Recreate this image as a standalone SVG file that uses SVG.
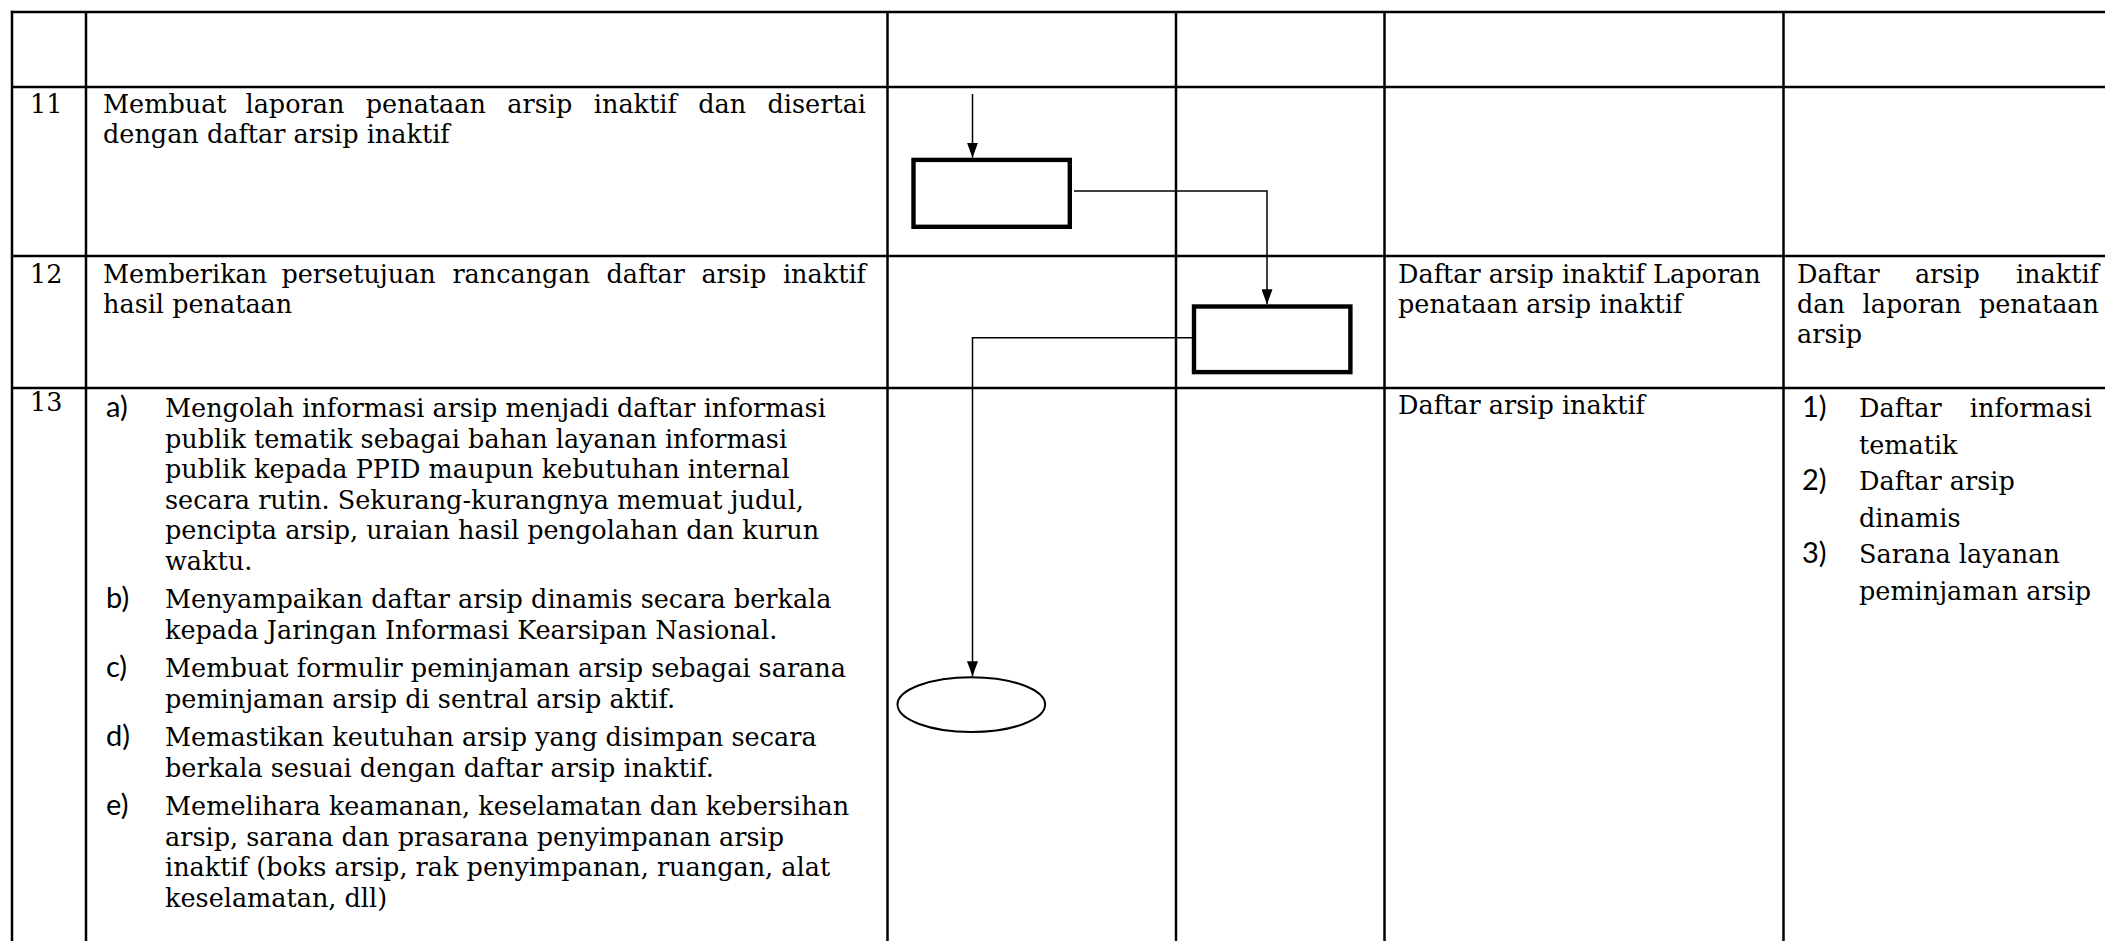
<svg xmlns="http://www.w3.org/2000/svg" width="2105" height="941" viewBox="0 0 2105 941">
<style>
.grid{stroke:#000;stroke-width:2.5;fill:none}
.t{font-family:"DejaVu Serif","Liberation Serif",serif;font-size:25.5px;fill:#000}
.lbl{font-family:Lato,"Liberation Sans",sans-serif;font-size:29px;fill:#000}
.proc{fill:#fff;stroke:#000;stroke-width:4.4}
.term{fill:#fff;stroke:#000;stroke-width:2}
.conn{fill:none;stroke:#000;stroke-width:1.5}
</style>
<defs>
<marker id="arr" viewBox="0 0 15 11" refX="15" refY="5.5" markerWidth="15" markerHeight="11" markerUnits="userSpaceOnUse" orient="auto">
<path d="M0,0 L15,5.5 L0,11 z" fill="#000"/>
</marker>
</defs>
<rect width="2105" height="941" fill="#fff"/>
<g id="table" class="grid">
<line x1="10.75" y1="12" x2="2105" y2="12"/>
<line x1="12" y1="87" x2="2105" y2="87"/>
<line x1="12" y1="256" x2="2105" y2="256"/>
<line x1="12" y1="388" x2="2105" y2="388"/>
<line x1="12" y1="10.75" x2="12" y2="941"/>
<line x1="86" y1="12" x2="86" y2="941"/>
<line x1="887.5" y1="12" x2="887.5" y2="941"/>
<line x1="1176" y1="12" x2="1176" y2="941"/>
<line x1="1384.5" y1="12" x2="1384.5" y2="941"/>
<line x1="1783.5" y1="12" x2="1783.5" y2="941"/>
</g>
<g id="row11" class="t">
<text x="30" y="113">11</text>
<text y="113"><tspan x="103">Membuat</tspan><tspan x="245.5">laporan</tspan><tspan x="365.8">penataan</tspan><tspan x="507.3">arsip</tspan><tspan x="593.8">inaktif</tspan><tspan x="698.2">dan</tspan></text>
<text x="866" y="113" text-anchor="end">disertai</text>
<text x="103" y="143">dengan daftar arsip inaktif</text>
</g>
<g id="row12" class="t">
<text x="30" y="283">12</text>
<text y="283"><tspan x="103">Memberikan</tspan><tspan x="281.4">persetujuan</tspan><tspan x="452.4">rancangan</tspan><tspan x="606.4">daftar</tspan><tspan x="701.4">arsip</tspan></text>
<text x="866" y="283" text-anchor="end">inaktif</text>
<text x="103" y="313">hasil penataan</text>
<text x="1398" y="283">Daftar arsip inaktif Laporan</text>
<text x="1398" y="313">penataan arsip inaktif</text>
<text y="283"><tspan x="1797">Daftar</tspan><tspan x="1914.9">arsip</tspan></text>
<text x="2099" y="283" text-anchor="end">inaktif</text>
<text y="313"><tspan x="1797">dan</tspan><tspan x="1862.6">laporan</tspan></text>
<text x="2099" y="313" text-anchor="end">penataan</text>
<text x="1797" y="343">arsip</text>
</g>
<g id="row13">
<text class="t" x="30" y="411">13</text>
<text class="lbl" x="106" y="417">a)</text>
<text class="t" x="165" y="417">Mengolah informasi arsip menjadi daftar informasi</text>
<text class="t" x="165" y="447.5">publik tematik sebagai bahan layanan informasi</text>
<text class="t" x="165" y="478">publik kepada PPID maupun kebutuhan internal</text>
<text class="t" x="165" y="508.5">secara rutin. Sekurang-kurangnya memuat judul,</text>
<text class="t" x="165" y="539">pencipta arsip, uraian hasil pengolahan dan kurun</text>
<text class="t" x="165" y="569.5">waktu.</text>
<text class="lbl" x="106" y="608">b)</text>
<text class="t" x="165" y="608">Menyampaikan daftar arsip dinamis secara berkala</text>
<text class="t" x="165" y="638.5">kepada Jaringan Informasi Kearsipan Nasional.</text>
<text class="lbl" x="106" y="677">c)</text>
<text class="t" x="165" y="677">Membuat formulir peminjaman arsip sebagai sarana</text>
<text class="t" x="165" y="707.5">peminjaman arsip di sentral arsip aktif.</text>
<text class="lbl" x="106" y="746">d)</text>
<text class="t" x="165" y="746">Memastikan keutuhan arsip yang disimpan secara</text>
<text class="t" x="165" y="776.5">berkala sesuai dengan daftar arsip inaktif.</text>
<text class="lbl" x="106" y="815">e)</text>
<text class="t" x="165" y="815">Memelihara keamanan, keselamatan dan kebersihan</text>
<text class="t" x="165" y="845.5">arsip, sarana dan prasarana penyimpanan arsip</text>
<text class="t" x="165" y="876">inaktif (boks arsip, rak penyimpanan, ruangan, alat</text>
<text class="t" x="165" y="906.5">keselamatan, dll)</text>
<text class="t" x="1398" y="414">Daftar arsip inaktif</text>
<text class="lbl" x="1802" y="417">1)</text>
<text class="t" x="1859" y="417">Daftar</text>
<text class="t" x="2092" y="417" text-anchor="end">informasi</text>
<text class="t" x="1859" y="453.6">tematik</text>
<text class="lbl" x="1802" y="490.2">2)</text>
<text class="t" x="1859" y="490.2">Daftar arsip</text>
<text class="t" x="1859" y="526.8">dinamis</text>
<text class="lbl" x="1802" y="563.4">3)</text>
<text class="t" x="1859" y="563.4">Sarana layanan</text>
<text class="t" x="1859" y="600">peminjaman arsip</text>
</g>
<g id="connectors">
<path class="conn" d="M972.5,94 L972.5,157.7" marker-end="url(#arr)"/>
<path class="conn" d="M1074,191 L1267,191 L1267,304.3" marker-end="url(#arr)"/>
<path class="conn" d="M1192,337.7 L972.5,337.7 L972.5,676.2" marker-end="url(#arr)"/>
</g>
<g id="node-process-1">
<rect class="proc" x="913.5" y="159.9" width="156.3" height="66.9"/>
</g>
<g id="node-process-2">
<rect class="proc" x="1194" y="306.5" width="156.4" height="65.6"/>
</g>
<g id="node-end">
<ellipse class="term" cx="971.3" cy="704.6" rx="73.8" ry="27.4"/>
</g>
</svg>
